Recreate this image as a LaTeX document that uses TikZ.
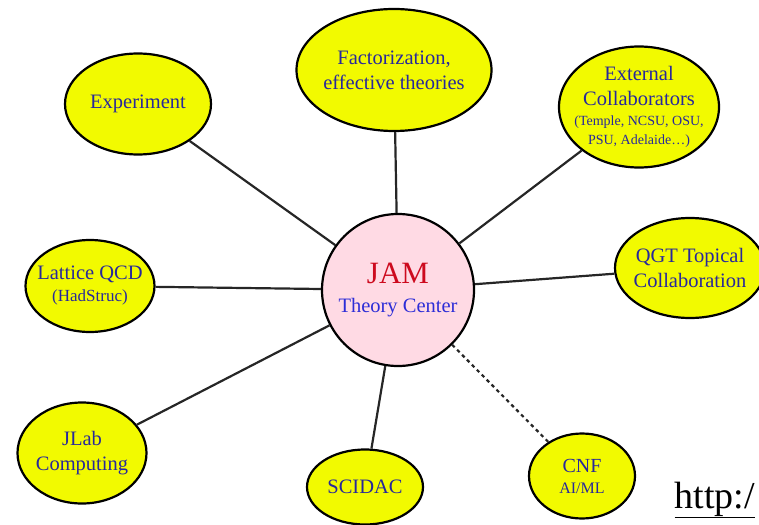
\documentclass[tikz,border=0pt]{standalone}
\usepackage{fontspec}
\setmainfont{Liberation Serif}
\usepackage{xcolor}
\usetikzlibrary{shapes.geometric}
\definecolor{bubble}{RGB}{242,250,0}
\definecolor{hubpink}{RGB}{255,218,228}
\definecolor{navytext}{RGB}{40,40,155}
\definecolor{jamred}{RGB}{205,10,30}
\definecolor{theoryblue}{RGB}{45,45,215}
\begin{document}
\begin{tikzpicture}[
                x=1pt, y=-1pt,
                topic/.style={draw, ellipse, line width=2.2pt, fill=bubble, text=navytext, inner sep=-30pt, align=center, font=\fontsize{20.5}{25}\selectfont},
                hub/.style={draw, circle, line width=2.2pt, fill=hubpink, inner sep=-30pt, minimum size=152pt, align=center, font=\fontsize{20.5}{25}\selectfont},
                link/.style={line width=2.2pt, draw=black!85},
                dashlink/.style={link, dash pattern=on 3.5pt off 3.5pt},
            ]

                \useasboundingbox (0,0) rectangle (759,524);

                % Hub
                \node[hub] (jam) at (398,290) {{\fontsize{31}{31}\selectfont\color{jamred}JAM}\\[4pt]{\color{theoryblue}Theory Center}};

                % Topics
                \node[topic, minimum width=146pt, minimum height=101pt] (experiment) at (138,104) {Experiment};
                \node[topic, minimum width=195pt, minimum height=122pt] (factor) at (394,70) {Factorization,\\effective theories};
                \node[topic, minimum width=160pt, minimum height=121pt] (external) at (639,107) {External\\Collaborators\\[-5pt]{\fontsize{14}{18}\selectfont (Temple, NCSU, OSU,}\\[-6pt]{\fontsize{14}{18}\selectfont PSU, Adelaide\ldots)}};
                \node[topic, minimum width=150pt, minimum height=100pt] (qgt) at (690,268) {QGT Topical\\Collaboration};
                \node[topic, minimum width=129pt, minimum height=92pt] (lattice) at (90,286) {Lattice QCD\\[-3pt]{\fontsize{17}{20}\selectfont (HadStruc)}};
                \node[topic, minimum width=129pt, minimum height=101pt] (jlab) at (82,453) {JLab\\Computing};
                \node[topic, minimum width=116pt, minimum height=75pt] (scidac) at (365,487) {SCIDAC};
                \node[topic, minimum width=106pt, minimum height=85pt, font=\fontsize{20}{21}\selectfont] (cnf) at (582,476) {CNF\\{\fontsize{16}{18}\selectfont AI/ML}};

                % Link
                \node[anchor=base west, font=\fontsize{38}{38}\selectfont] (url) at (671,508) {\underline{http:/}};

                % Connect hub to topics
                \foreach \t in {experiment, factor, external, qgt, lattice, jlab, scidac}
                    \draw[link] (jam) -- (\t);
                \draw[dashlink] (jam) -- (cnf);
            \end{tikzpicture}
\end{document}
